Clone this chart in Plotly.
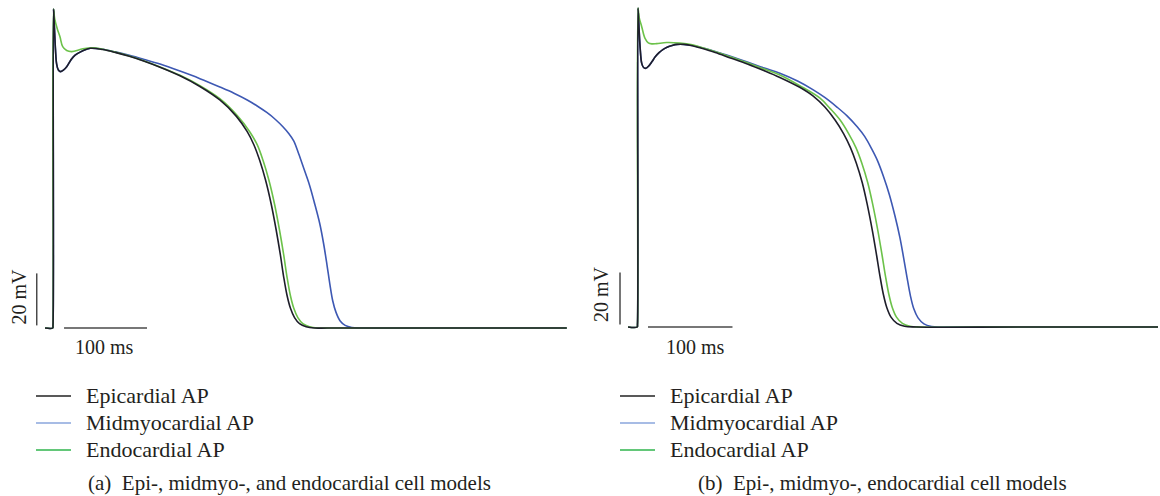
import plotly.graph_objects as go

W, H = 1160, 496

# ---- Panel (a): epi-, midmyo-, endocardial action potentials (time in ms, voltage in mV)
a_epi_t = [-9.6, -0.4, 0, 0.6, 1.5, 3.0, 4.4, 6.5, 9.2, 12.5, 16.5, 24.5, 36.5, 45, 60, 75, 92, 110, 129,
           153, 177, 201, 221, 234, 242, 249, 256, 263, 269, 274, 278, 282, 286, 291, 297, 305, 315, 330,
           450, 619]
a_epi_v = [-85, -85, -84, 37.7, 32, 22, 16.5, 14.2, 13.6, 14.2, 15.5, 19.3, 21.7, 22.6, 22.1, 21.0, 19.5,
           17.6, 15.3, 12.0, 7.9, 2.7, -3.6, -9.5, -14.5, -20.5, -28.0, -37.5, -47.5, -57.0, -65.5, -72.5,
           -77.3, -81.0, -83.3, -84.5, -85, -85, -85, -85]

a_mid_t = [-9.6, -0.4, 0, 0.6, 1.5, 3.0, 4.4, 6.5, 9.2, 12.5, 16.5, 24.5, 36.5, 45, 60, 75, 92, 110, 129,
           153, 177, 201, 218, 234, 246, 258, 268, 277, 284, 290, 296, 302, 309, 315.5, 321.5, 326, 330,
           333.5, 337, 341, 346, 352, 360, 372, 450, 619]
a_mid_v = [-85, -85, -84, 37.7, 32, 22, 16.5, 14.2, 13.6, 14.2, 15.5, 19.3, 21.7, 22.6, 22.2, 21.2, 19.9,
           18.3, 16.5, 13.8, 10.9, 7.7, 5.3, 2.7, 0.4, -2.2, -4.8, -7.6, -10.2, -13.0, -18.0, -23.5, -30.0,
           -37.5, -45.0, -52.5, -60.5, -68.0, -74.5, -79.0, -82.3, -84.0, -84.8, -85, -85, -85]

a_endo_t = [-9.6, -0.4, 0, 0.6, 2.0, 5.2, 8.4, 11.7, 16.5, 22.5, 36, 48, 60, 75, 92, 110, 129, 153, 177,
            201, 222, 237, 246, 253, 260, 267, 273, 278, 282, 286, 290, 295, 301, 309, 319, 334, 450, 619]
a_endo_v = [-85, -85, -84, 37.7, 34, 30, 27, 23.2, 21.7, 21.3, 22.4, 22.8, 22.2, 21.1, 19.6, 17.7, 15.4,
            12.2, 8.2, 3.2, -3.3, -9.5, -14.5, -20.5, -28.0, -37.5, -47.5, -57.0, -65.5, -72.5, -77.3,
            -81.0, -83.3, -84.5, -85, -85, -85, -85]

# ---- Panel (b)
b_epi_t = [-11.2, -0.4, 0, 0.6, 1.8, 3.2, 5.0, 7.2, 9.7, 13, 17, 21, 25.5, 30, 35, 41, 47, 55, 65, 75, 92,
           110, 130, 150, 168.5, 192, 208, 222, 234, 244, 252, 259, 266, 272, 278, 283, 287, 291, 295,
           300, 307, 316, 330, 450, 616]
b_epi_v = [-85, -85, -84, 37.7, 30, 22, 16.4, 14.8, 14.5, 15.3, 17.0, 18.9, 20.5, 21.7, 22.6, 23.3, 23.7,
           23.7, 23.2, 22.3, 20.6, 18.5, 16.2, 13.6, 11.0, 7.2, 3.8, -0.5, -5.5, -10.7, -16.0, -22.0,
           -29.5, -38.0, -48.0, -57.5, -65.5, -72.5, -77.5, -81.2, -83.6, -84.7, -85, -85, -85]

b_mid_t = [-11.2, -0.4, 0, 0.6, 1.8, 3.2, 5.0, 7.2, 9.7, 13, 17, 21, 25.5, 30, 35, 41, 47, 55, 65, 75, 92,
           110, 130, 150, 168.5, 190, 208, 222, 236, 248, 260, 269, 277, 284, 291, 298, 304.5, 310.5, 315,
           319, 323, 327, 332, 339, 348, 360, 450, 616]
b_mid_v = [-85, -85, -84, 37.7, 30, 22, 16.4, 14.8, 14.5, 15.3, 17.0, 18.9, 20.5, 21.7, 22.6, 23.3, 23.7,
           23.7, 23.3, 22.5, 21.0, 19.1, 16.9, 14.6, 12.6, 9.5, 6.2, 3.2, -0.4, -3.8, -8.0, -11.8, -16.4,
           -21.0, -27.0, -34.0, -42.0, -50.5, -58.5, -66.0, -73.0, -78.0, -81.5, -83.8, -84.8, -85, -85,
           -85]

b_endo_t = [-11.2, -0.4, 0, 0.6, 2.0, 5.0, 8.9, 12.8, 17, 22.7, 34.5, 50, 65, 75, 92, 110, 130, 150, 168.5,
            192, 216, 228, 240, 250, 258.5, 265.5, 272.5, 278.5, 284.5, 289.5, 293.5, 297.5, 301.5,
            306.5, 313.5, 322.5, 335, 450, 616]
b_endo_v = [-85, -85, -84, 37.7, 34, 30.5, 26.0, 24.3, 23.9, 24.0, 24.4, 24.2, 23.5, 22.6, 20.9, 18.9,
            16.6, 14.2, 11.9, 7.8, 3.0, -1.0, -5.5, -10.7, -16.0, -22.0, -29.5, -38.0, -48.0, -57.5,
            -65.5, -72.5, -77.5, -81.2, -83.6, -84.7, -85, -85, -85]

labels = ["Epicardial AP", "Midmyocardial AP", "Endocardial AP"]
captions = ["(a)\u00a0\u00a0Epi-, midmyo-, and endocardial cell models",
            "(b)\u00a0\u00a0Epi-, midmyo-, endocardial cell models"]

C_EPI, C_MID, C_ENDO = "#1e1e2a", "#3d58b3", "#6cc24a"
LEG_COLORS = ["#222222", "#8aa6dc", "#2fb44c"]
TXT = "#231f20"
FONT = "Liberation Serif"

fig = go.Figure()

def add_panel(xa, ya, epi, mid, endo):
    for (t, v), c, name in [(mid, C_MID, labels[1]), (endo, C_ENDO, labels[2]), (epi, C_EPI, labels[0])]:
        fig.add_trace(go.Scatter(x=t, y=v, mode="lines", name=name, showlegend=False,
                                 line=dict(color=c, width=1.6, shape="spline", smoothing=1.0),
                                 xaxis=xa, yaxis=ya, hoverinfo="skip"))

add_panel("x", "y", (a_epi_t, a_epi_v), (a_mid_t, a_mid_v), (a_endo_t, a_endo_v))
add_panel("x2", "y2", (b_epi_t, b_epi_v), (b_mid_t, b_mid_v), (b_endo_t, b_endo_v))

def px_x(p):
    return p / W

def px_y(p):
    return 1 - p / H

hidden = dict(visible=False, fixedrange=True)
fig.update_layout(
    width=W, height=H, margin=dict(l=0, r=0, t=0, b=0),
    paper_bgcolor="white", plot_bgcolor="white", showlegend=False,
    xaxis=dict(domain=[px_x(30), px_x(580)], range=[(30 - 53) / 0.83, (580 - 53) / 0.83], **hidden),
    yaxis=dict(domain=[px_y(340), 1], range=[-85 - 12 / 2.6, -85 + 328 / 2.6], **hidden),
    xaxis2=dict(domain=[px_x(615), 1], range=[(615 - 637.5) / 0.845, (1160 - 637.5) / 0.845], **hidden),
    yaxis2=dict(domain=[px_y(340), 1], range=[-85 - 13 / 2.6, -85 + 327 / 2.6], **hidden),
)

# scale bars: 20 mV and 100 ms
bar = dict(color="#4a4a4a", width=1.5)
for xr, yr, tx, h0 in [("x", "y", -19.6, 13.3), ("x2", "y2", -20.7, 12.4)]:
    fig.add_shape(type="line", xref=xr, yref=yr, x0=tx, x1=tx, y0=-84, y1=-64, line=bar)
    fig.add_shape(type="line", xref=xr, yref=yr, x0=h0, x1=h0 + 100, y0=-85, y1=-85, line=bar)

scale_font = dict(family=FONT, size=20, color=TXT)
legend_font = dict(family=FONT, size=22, color=TXT)
caption_font = dict(family=FONT, size=21, color=TXT)
for cx, cy in [(18.5, 297), (601, 294)]:
    fig.add_annotation(text="20 mV", x=px_x(cx), y=px_y(cy), xref="paper", yref="paper",
                       showarrow=False, textangle=-90, font=scale_font, xanchor="center", yanchor="middle")
for cx in [104, 695]:
    fig.add_annotation(text="100 ms", x=px_x(cx), y=px_y(347), xref="paper", yref="paper",
                       showarrow=False, font=scale_font, xanchor="center", yanchor="middle")

# legends drawn as line samples + labels
rows = [396, 423, 450]
for lx0, lx1, tx in [(36, 71, 85), (620, 655, 669)]:
    for ry, lab, col in zip(rows, labels, LEG_COLORS):
        fig.add_shape(type="line", xref="paper", yref="paper", x0=px_x(lx0), x1=px_x(lx1),
                      y0=px_y(ry), y1=px_y(ry), line=dict(color=col, width=1.5))
        fig.add_annotation(text=lab, x=px_x(tx), y=px_y(ry - 1), xref="paper", yref="paper",
                           showarrow=False, font=legend_font, xanchor="left", yanchor="middle",
                           borderpad=0)

for cap, cx in zip(captions, [87, 697]):
    fig.add_annotation(text=cap, x=px_x(cx), y=0, xref="paper", yref="paper",
                       showarrow=False, font=caption_font, xanchor="left", yanchor="bottom",
                       borderpad=0)

fig.write_html("out.html")
